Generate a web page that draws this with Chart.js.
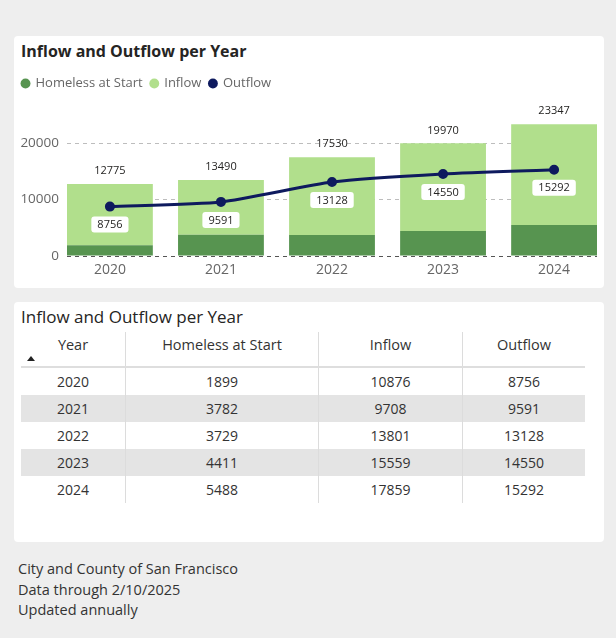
<!DOCTYPE html>
<html>
<head>
<meta charset="utf-8">
<script src="https://cdn.jsdelivr.net/npm/chart.js@4.4.1/dist/chart.umd.min.js"></script>
<style>
  html, body { margin: 0; padding: 0; }
  body {
    width: 616px; height: 638px; background: #eeeeee; position: relative; overflow: hidden;
    font-family: "Open Sans", "Noto Sans", sans-serif; color: #333;
  }
  .card { position: absolute; left: 14px; width: 590px; background: #fff; border-radius: 4px; }
  #chartCard { top: 36px; height: 252px; }
  #tableCard { top: 302px; height: 240px; }
  .title { position: absolute; left: 7px; white-space: nowrap; color: #252423; }
  #chartCard .title { top: 4px; font-size: 16px; font-weight: 700; }
  #tableCard .title { top: 3px; font-size: 17px; font-weight: 400; }
  #chartWrap { position: absolute; left: 0; top: 30px; width: 590px; height: 222px; }
  table { position: absolute; left: 7px; top: 30px; border-collapse: collapse; font-size: 14px; color: #333; }
  th { font-weight: 400; font-size: 14.5px; height: 31px; vertical-align: top; padding: 3px 0 0 0; position: relative; border-bottom: 2px solid #dedede; }
  td { height: 27px; padding: 0; text-align: center; }
  th + th, td + td { border-left: 1px solid #dcdcdc; }
  tbody tr:nth-child(even) td { background: #e4e4e4; }
  .arrow {
    position: absolute; left: 6px; top: 24px; width: 0; height: 0;
    border-left: 4.5px solid transparent; border-right: 4.5px solid transparent; border-bottom: 5px solid #222;
  }
  #footer { position: absolute; left: 18px; top: 559px; font-size: 14.5px; line-height: 20.5px; color: #333; }
</style>
</head>
<body>
<div class="card" id="chartCard">
  <div class="title">Inflow and Outflow per Year</div>
  <div id="chartWrap"><canvas id="flowChart"></canvas></div>
</div>
<div class="card" id="tableCard">
  <div class="title">Inflow and Outflow per Year</div>
  <table id="flowTable">
    <thead>
      <tr>
        <th style="width:104px"><span class="arrow"></span>Year</th>
        <th style="width:192px">Homeless at Start</th>
        <th style="width:143px">Inflow</th>
        <th style="width:122px">Outflow</th>
      </tr>
    </thead>
    <tbody></tbody>
  </table>
</div>
<div id="footer">
  City and County of San Francisco<br>
  Data through 2/10/2025<br>
  Updated annually
</div>

<script>
// Dữ liệu
const years = ['2020', '2021', '2022', '2023', '2024'];
const homelessAtStart = [1899, 3782, 3729, 4411, 5488];
const inflow = [10876, 9708, 13801, 15559, 17859];
const outflow = [8756, 9591, 13128, 14550, 15292];
const yTicks = [0, 10000, 20000];

const darkGreen = '#579450';
const lightGreen = '#b1df8c';
const navy = '#0e1a5e';

// Bảng
const tbody = document.querySelector('#flowTable tbody');
years.forEach((y, i) => {
    const tr = document.createElement('tr');
    [y, homelessAtStart[i], inflow[i], outflow[i]].forEach(v => {
        const td = document.createElement('td');
        td.textContent = v;
        tr.appendChild(td);
    });
    tbody.appendChild(tr);
});

const toPoints = arr => arr.map((v, i) => ({ x: i, y: v }));

// Nhãn dữ liệu: tổng trên cột và nhãn outflow trong hộp trắng
const labelPlugin = {
    id: 'flowLabels',
    afterDatasetsDraw(chart) {
        const ctx = chart.ctx;
        const xs = chart.scales.x, ys = chart.scales.y;
        ctx.save();
        ctx.font = '11px "Open Sans", sans-serif';
        ctx.textAlign = 'center';
        ctx.textBaseline = 'middle';
        years.forEach((y, i) => {
            const total = homelessAtStart[i] + inflow[i];
            ctx.fillStyle = '#252423';
            ctx.fillText(String(total), xs.getPixelForValue(i), ys.getPixelForValue(total) - 13);
        });
        const lineMeta = chart.getDatasetMeta(2);
        lineMeta.data.forEach((pt, i) => {
            const txt = String(outflow[i]);
            const w = ctx.measureText(txt).width + 12;
            const h = 16;
            const cx = pt.x, cy = pt.y + 18;
            ctx.fillStyle = '#ffffff';
            ctx.beginPath();
            ctx.roundRect(cx - w / 2, cy - h / 2, w, h, 3);
            ctx.fill();
            ctx.fillStyle = '#252423';
            ctx.fillText(txt, cx, cy + 0.5);
        });
        ctx.restore();
    }
};

// Tăng khoảng cách dưới chú thích
const legendGap = {
    id: 'legendGap',
    beforeInit(chart) {
        const origFit = chart.legend.fit;
        chart.legend.fit = function() {
            origFit.call(this);
            this.height += 15;
        };
    }
};

const config = {
    type: 'bar',
    data: {
        datasets: [
            {
                label: 'Homeless at Start',
                data: toPoints(homelessAtStart),
                backgroundColor: darkGreen,
                stack: 'bars',
                order: 2
            },
            {
                label: 'Inflow',
                data: toPoints(inflow),
                backgroundColor: lightGreen,
                stack: 'bars',
                order: 2
            },
            {
                type: 'line',
                label: 'Outflow',
                data: toPoints(outflow),
                borderColor: navy,
                backgroundColor: navy,
                pointBackgroundColor: navy,
                pointBorderColor: navy,
                borderWidth: 3,
                pointRadius: 3.5,
                tension: 0.2,
                stack: 'line',
                order: 1
            }
        ]
    },
    options: {
        responsive: true,
        maintainAspectRatio: false,
        animation: false,
        layout: { padding: { left: 0, right: 6, top: 3, bottom: 0 } },
        datasets: {
            bar: { categoryPercentage: 1, barPercentage: 0.773 }
        },
        plugins: {
            legend: {
                display: true,
                position: 'top',
                align: 'start',
                labels: {
                    usePointStyle: true,
                    pointStyle: 'circle',
                    boxWidth: 7,
                    boxHeight: 7,
                    padding: 8,
                    color: '#666',
                    font: { size: 13, family: '"Open Sans", sans-serif' },
                    sort: (a, b) => a.datasetIndex - b.datasetIndex,
                    generateLabels(chart) {
                        return Chart.defaults.plugins.legend.labels.generateLabels(chart).map(item => {
                            item.lineWidth = 0;
                            item.strokeStyle = item.fillStyle;
                            return item;
                        });
                    }
                }
            },
            tooltip: { enabled: false }
        },
        scales: {
            x: {
                type: 'linear',
                offset: false,
                min: -0.3865,
                max: years.length - 1 + 0.3865,
                grid: { display: false, drawTicks: false },
                border: { display: false },
                afterBuildTicks(scale) {
                    scale.ticks = years.map((y, i) => ({ value: i }));
                },
                afterFit(scale) { scale.height = 32; },
                ticks: {
                    color: '#666',
                    padding: 6,
                    font: { size: 14, family: '"Open Sans", sans-serif' },
                    callback: v => years[v]
                }
            },
            y: {
                stacked: true,
                min: 0,
                max: 25000,
                afterFit(scale) { scale.width = 53; },
                afterBuildTicks(scale) {
                    scale.ticks = yTicks.map(v => ({ value: v }));
                },
                grid: {
                    drawTicks: false,
                    color: c => (c.tick && c.tick.value === 0) ? '#555' : '#bdbdbd',
                    lineWidth: 1
                },
                border: { display: false, dash: [4, 4] },
                ticks: {
                    color: '#666',
                    padding: 8,
                    font: { size: 13.5, family: '"Open Sans", sans-serif' },
                    callback: v => String(v)
                }
            }
        }
    },
    plugins: [labelPlugin, legendGap]
};

new Chart(document.getElementById('flowChart').getContext('2d'), config);
</script>
</body>
</html>
